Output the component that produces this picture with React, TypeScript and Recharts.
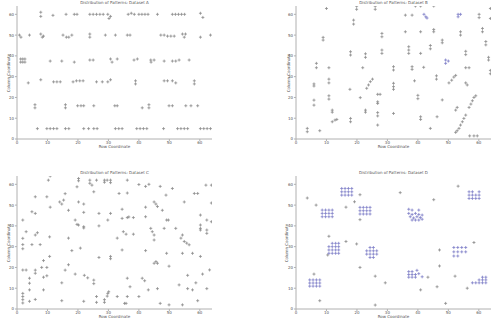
import React from "react";
import { ScatterChart, Scatter, XAxis, YAxis } from "recharts";

type Pt = [number, number];

const TICKS = [0, 10, 20, 30, 40, 50, 60];
const TITLES = [
  "Distribution of Patterns: Dataset A",
  "Distribution of Patterns: Dataset B",
  "Distribution of Patterns: Dataset C",
  "Distribution of Patterns: Dataset D",
];
const X_LABEL = "Row Coordinate";
const Y_LABEL = "Column Coordinate";

const panelA: Pt[] = [
  [7.8, 61], [7.8, 59], [11.8, 59.5], [16.1, 60], [18.8, 60], [19.7, 60], [23.9, 60], [25, 60], [26.1, 60], [27.2, 60], [28.3, 60],
  [29.8, 60], [30.7, 59], [30.2, 58], [36.5, 60], [37.5, 60.5], [38.5, 60], [40, 60], [41, 60], [42, 60], [43, 60], [46.1, 60],
  [51, 60], [52, 60], [53, 60], [54, 60], [55, 60], [60.2, 60.5], [61, 58.5],
  [0.8, 50], [1.3, 49], [4.1, 50], [7.8, 50.5], [8.7, 49.5], [8.3, 49], [15.1, 50], [16.2, 49], [17, 49], [18, 50], [23.9, 50.5],
  [23.9, 49], [29, 50], [32.3, 50], [36.2, 50], [37.1, 50], [47.2, 50], [48.3, 50], [49.4, 49.5], [50.5, 49.5], [51.6, 49.5],
  [54.3, 50.5], [54.9, 49], [55.3, 50.5], [60.2, 49], [63.5, 50],
  [1.2, 38.5], [1.9, 38.5], [2.6, 38.5], [1.2, 37], [1.9, 37], [2.6, 37], [10.9, 37.5], [14.7, 37.5], [18.8, 37], [23.9, 38],
  [25, 38], [30.7, 38.5], [31.2, 37], [32.9, 38.5], [38.4, 38], [39.5, 38.5], [43.9, 38], [45, 38], [44, 37], [48.3, 37.5],
  [51, 37.5], [52.1, 37.5], [53.2, 38], [56.5, 38],
  [3.7, 27], [7.8, 28.5], [12, 27.5], [13.1, 27.5], [14.2, 27.5], [18.4, 27.5], [19.5, 28], [20.6, 28], [21.7, 28], [26.1, 27.5],
  [28, 27.5], [29.8, 27.5], [30.7, 28.5], [38.9, 28], [38.9, 26.5], [48.3, 28], [49.4, 28], [51, 28], [52.1, 27], [58.2, 28], [58.2, 26.5],
  [5.9, 16.5], [5.9, 15], [15.9, 16.5], [15.9, 15], [19.9, 16], [21, 16], [21.9, 16], [25.2, 16], [32.1, 16], [32.9, 16],
  [41.1, 15], [43.3, 16.5], [43.3, 15], [49.9, 16], [51, 16], [55.4, 16], [57.1, 16], [59.3, 16],
  [6.7, 5], [9.8, 5], [10.9, 5], [12, 5], [13.1, 5], [15.9, 5], [17, 5], [21.9, 5], [23.5, 5], [25.2, 5], [26.3, 5],
  [32.3, 5], [33.4, 5], [34.5, 5], [39.3, 5], [40.4, 5], [41.5, 5], [42.6, 5], [48.1, 5], [52.7, 5], [53.8, 5], [54.9, 5],
  [56, 5], [60.2, 5], [61.3, 5], [62.4, 5], [63.5, 5],
];

const panelB: Pt[] = [
  [3.7, 5.1], [3.7, 3.5], [7.8, 4], [5.9, 26.5], [5.9, 25.5], [5.9, 18.7], [5.9, 16.3], [6.7, 36.4], [6.7, 34.3], [8.9, 48.9],
  [8.9, 47.6], [10, 62.8], [10.8, 34.3], [10.8, 28.8], [10.8, 27], [10.8, 20.8], [10.8, 19.2], [11.9, 13.9], [11.9, 12.9],
  [11.9, 8.3], [12.8, 9.1], [13.4, 9.4], [17.7, 23.9], [17.9, 9.9], [17.9, 8.3], [17.9, 42], [17.9, 40.4], [18.9, 57.2],
  [18.9, 55.3], [19.9, 63.9], [19.9, 62.4], [21.1, 19.9], [21.9, 34.3], [22.8, 41], [22.8, 39.3], [23.2, 24.4], [23.8, 26],
  [24.4, 27.6], [25.1, 28.8], [22.8, 13.9], [22.8, 12.9], [26, 63.9], [26, 62.4], [26.8, 21.5], [27.6, 21.5], [26.8, 17.9],
  [26.8, 17.1], [26.8, 12.7], [26.8, 11.1], [26.8, 6.7], [28.2, 50.8], [28.2, 49.2], [28.2, 42.8], [28.2, 41.2], [32, 34.8],
  [32, 33.2], [32, 26.8], [32, 25.2], [32, 23.9], [32, 12.3], [35.9, 59.6], [35.9, 51.6], [37, 44.4], [37, 42.8], [37, 41.2],
  [38.1, 59.6], [38.1, 34.8], [38.1, 33.5], [38.9, 28], [39.2, 64], [40.9, 64], [40, 21], [40, 19.4], [40.9, 51.6], [40.9, 41.2],
  [40.9, 10.7], [40.9, 9.4], [41.9, 34.5], [44.1, 45], [44.1, 43.4], [44.1, 5.1], [45.2, 64], [45.2, 52.7], [45.2, 51.6],
  [46.1, 30.4], [46.1, 28.8], [46.3, 10.7], [48, 47.6], [48, 46.3], [48, 18.8], [50.2, 27], [51.1, 28.3], [51.8, 29.8],
  [52.4, 30.6], [52.4, 13.9], [52.9, 15.2], [52.4, 3.2], [52.9, 4], [53.5, 5.1], [54, 6.7], [54.6, 8.3], [55.1, 9.9], [55.7, 11.5],
  [54, 51.6], [54, 50], [55.7, 42.2], [55.7, 40.6], [55.7, 34.3], [56.8, 34.3], [55.7, 27], [56.2, 26], [56.8, 15.2], [57.4, 16.8],
  [57.9, 18.4], [58.4, 20], [59, 20.8], [57, 1.5], [58.4, 1.5], [59.5, 1.5], [60.1, 60], [60.1, 58.4], [61.2, 53.2], [61.2, 51.6],
  [62.3, 46.9], [62.3, 45.3], [63.2, 39.3], [63.2, 38], [63.8, 33], [63.8, 31.4], [63.8, 62.8], [63.8, 58],
];

const panelBBlue: Pt[] = [
  [42, 60], [42.6, 58.8], [43, 58.2], [49.1, 38], [49.1, 36.4], [50, 37.5], [53.2, 60], [53.2, 58.8], [54, 60],
];

const panelC: Pt[] = [
  [1.9, 42.8], [1.9, 34], [1.9, 31], [1.9, 29], [1.9, 18.75], [1.9, 7.5], [1.9, 6], [1.9, 4.5], [1.9, 2.9], [3, 18.75], [3, 37.2],
  [4.1, 14.8], [4.1, 12.4], [4.1, 9.2], [4.1, 3.7], [4.9, 31], [4.9, 46.8], [6, 54], [6, 46], [6, 35.6], [6.7, 36.7], [6, 18.7],
  [6, 17.2], [6, 4.6], [7.6, 31], [8.1, 20], [8.7, 23.3], [8.7, 15.3], [9.8, 16], [9.8, 20], [8.7, 9.2], [9.8, 54], [10.3, 62],
  [10.9, 64], [10.7, 34.7], [10.7, 25.3], [10.9, 49], [14, 51.5], [14.7, 50.5], [15.3, 52.4], [15.8, 55.5], [16.9, 47.5],
  [16.9, 34.1], [16.9, 21.3], [15.8, 18.7], [14.7, 12.6], [14.7, 4], [18, 28.1], [19.1, 16.8], [19.1, 42.8], [19.7, 40.7],
  [19.7, 58.8], [20.2, 62.8], [20.2, 61.7], [20.2, 51.5], [20.2, 40.4], [20.8, 29.3], [21.9, 39.6], [21.9, 39], [21.9, 50.5],
  [21.9, 46.5], [22.1, 16.2], [21.9, 3.7], [23.2, 15], [23.9, 62], [23.9, 60.5], [24.6, 59.6], [25.2, 56.4], [25.2, 13.9],
  [25.2, 12.2], [26.1, 62], [26.1, 6], [26.1, 3.2], [26.9, 46], [26.9, 40], [26.9, 24.8], [28.7, 62], [28.7, 61], [29.6, 62],
  [29.6, 6.2], [29.8, 7.5], [30.1, 8.3], [29.8, 42.8], [30.7, 46], [30.7, 62], [30.7, 60.8], [30.7, 25.3], [30.7, 24.2],
  [28.7, 4.5], [28.7, 3.2], [32.9, 34.1], [32.9, 6], [33.5, 55.6], [34.5, 48], [34.5, 43.6], [34.5, 28.4], [34.9, 37.2],
  [35.8, 36], [35.3, 2.7], [35.8, 2.7], [36.2, 62], [36.2, 55.8], [36.2, 44], [36.7, 44.3], [36.2, 14.8], [36.2, 6], [37.1, 10.7],
  [38.2, 36], [38.2, 44], [40, 59.9], [40, 6], [41.1, 14.8], [41.9, 13.6], [42.2, 44.4], [42.2, 59], [43.3, 60], [42.2, 49],
  [42.2, 28.1], [43.1, 9.2], [43.9, 38.8], [44.4, 37.2], [45, 35.6], [45, 33.2], [45, 51.5], [45.6, 50.5], [46.1, 49.3], [45, 22],
  [45.6, 22.8], [46.1, 22], [46.1, 9.8], [47, 59], [47, 2.7], [47.7, 47.5], [48.3, 38.8], [48.9, 54.8], [49.1, 42.8], [49.7, 42.8],
  [49.1, 26.8], [49.9, 20.6], [49.9, 2], [51, 58], [52.1, 38.8], [53.2, 11.6], [53.8, 34.1], [54.3, 35.6], [54.3, 26.8], [54.3, 2],
  [54.9, 51.5], [54.9, 32.5], [55.7, 31.7], [56.5, 30.9], [56, 16.2], [56, 9.8], [57.6, 26.8], [57.6, 9.2], [58.2, 55.6],
  [59.3, 55.6], [58.7, 12.6], [59.3, 4], [60.2, 25.3], [60.2, 45.2], [60.2, 40.4], [60.2, 38.8], [60.2, 38], [60.9, 16.8], [62, 59.6],
  [62.3, 42.8], [62.3, 38], [62.3, 36.4], [62.3, 9.8], [63.2, 18.8], [63.8, 59.6], [63.8, 51], [63.8, 42],
];

const panelDSingles: Pt[] = [
  [5.9, 16.8], [7.8, 4], [3.7, 53.4], [6.6, 50], [10.8, 35], [10.4, 26], [16.4, 49], [16.4, 32.5], [19.2, 51.6], [19.9, 31.3],
  [21, 55], [21, 43], [21, 20], [26, 15.8], [26, 1.9], [29.3, 12.6], [34.2, 56], [40.9, 9.2], [43.3, 15.3], [45.2, 52.6],
  [46.3, 10.7], [47.1, 28.4], [47.1, 20.7], [49.1, 2.7], [52.2, 15.8], [53.2, 59.1], [56.2, 10], [58.4, 32],
];

const panelDClusters: Pt[] = [
  [4.5, 11], [5.6, 11], [6.7, 11], [7.8, 11], [4.5, 12.5], [5.6, 12.5], [6.7, 12.5], [7.8, 12.5], [4.5, 14], [5.6, 14], [6.7, 14], [7.8, 14],
  [8.6, 44.4], [9.7, 44.4], [10.8, 44.4], [11.9, 44.4], [8.6, 46], [9.7, 46], [10.8, 46], [11.9, 46], [8.6, 47.6], [9.7, 47.6], [10.8, 47.6], [11.9, 47.6],
  [10.8, 26.8], [11.9, 26.8], [13, 26.8], [14, 26.8], [10.8, 28.4], [11.9, 28.4], [13, 28.4], [14, 28.4], [10.8, 30], [11.9, 30],
  [13, 30], [14, 30], [11.9, 31.6], [13, 31.6], [14, 31.6],
  [15, 54.8], [16.1, 54.8], [17.2, 54.8], [18.3, 54.8], [15, 56.4], [16.1, 56.4], [17.2, 56.4], [18.3, 56.4], [15, 58], [16.1, 58], [17.2, 58], [18.3, 58],
  [21, 45.7], [22.1, 45.7], [23.2, 45.7], [24.3, 45.7], [21, 47.3], [22.1, 47.3], [23.2, 47.3], [24.3, 47.3], [21, 48.9], [22.1, 48.9], [23.2, 48.9], [24.3, 48.9],
  [24.3, 24.8], [25.4, 24.8], [23.2, 26.4], [24.3, 26.4], [25.4, 26.4], [26.5, 26.4], [23.2, 28], [24.3, 28], [25.4, 28], [26.5, 28], [24.3, 29.6], [25.4, 29.6],
  [37, 48], [38.1, 47.6], [40.3, 47.6], [37, 46], [38.1, 45.5], [39.2, 46], [40.3, 45.5], [41.4, 45.2], [37.5, 44.4], [38.6, 43.8],
  [39.7, 44.4], [40.8, 44], [38.1, 42.8], [39.2, 42.8], [40.3, 42.8], [41.4, 43.2],
  [37, 18], [38.1, 18], [39.7, 18.6], [37, 16.6], [38.1, 16.6], [39.2, 16.6], [40.3, 17], [37, 15.3], [38.1, 15.3], [39.2, 15.3], [41.4, 15.5],
  [51.8, 25.5], [53.1, 25.5], [51.8, 27.5], [53.1, 27.5], [54.4, 27.5], [55.7, 27.5], [51.8, 29.6], [53.1, 29.6], [54.4, 29.6], [55.7, 29.6],
  [56.8, 53.2], [57.9, 53.2], [59, 53.2], [60.1, 53.2], [56.8, 54.8], [57.9, 54.8], [59, 54.8], [60.1, 54.8], [56.8, 56.4], [57.9, 56.4], [60.1, 56.4],
  [57.9, 12.6], [59, 12.6], [60.1, 12.6], [61.2, 12.6], [62.3, 12.6], [60.1, 14], [61.2, 14], [62.3, 14], [61.2, 15.3], [62.3, 15.3],
];

const toObj = (pts: Pt[]) => pts.map(([x, y]) => ({ x, y }));

const GRAY = "#8c8c8c";
const BLUE = "#7f7fc8";

const plus = (color: string) => (props: any) => {
  const { cx, cy } = props;
  if (cx == null || cy == null) return <g />;
  return (
    <path
      d={`M${cx - 1.5},${cy}h3M${cx},${cy - 1.5}v3`}
      stroke={color}
      strokeWidth={0.8}
      fill="none"
    />
  );
};

const tickStyle = { fontSize: 4, fill: "#555", fontFamily: "DejaVu Sans, sans-serif" };
const axisLine = { stroke: "#b0b0b0", strokeWidth: 1 };

interface PanelProps {
  left: number;
  top: number;
  width: number;
  height: number;
  yAxisWidth: number;
  marginTop: number;
  marginRight: number;
  xAxisHeight: number;
  series: { data: Pt[]; color: string }[];
  title: string;
  titleTop: number;
  xLabelTop: number;
  yLabelLeft: number;
}

function Panel(p: PanelProps) {
  const plotLeft = p.yAxisWidth;
  const plotRight = p.width - p.marginRight;
  const plotTop = p.marginTop;
  const plotBottom = p.height - p.xAxisHeight;
  const cx = (plotLeft + plotRight) / 2;
  const cy = (plotTop + plotBottom) / 2;
  const textStyle: React.CSSProperties = {
    position: "absolute",
    fontSize: 4,
    lineHeight: "5px",
    color: "#555",
    fontFamily: "DejaVu Sans, sans-serif",
    whiteSpace: "nowrap",
  };
  return (
    <div style={{ position: "absolute", left: p.left, top: p.top, width: p.width, height: p.height }}>
      <ScatterChart
        width={p.width}
        height={p.height}
        margin={{ top: p.marginTop, right: p.marginRight, bottom: 0, left: 0 }}
      >
        <XAxis
          type="number"
          dataKey="x"
          domain={[0, 64]}
          ticks={TICKS}
          allowDataOverflow
          height={p.xAxisHeight}
          tick={tickStyle}
          tickSize={2}
          tickMargin={0}
          axisLine={axisLine}
          tickLine={{ stroke: "#b0b0b0" }}
        />
        <YAxis
          type="number"
          dataKey="y"
          domain={[0, 64]}
          ticks={TICKS}
          allowDataOverflow
          width={p.yAxisWidth}
          tick={tickStyle}
          tickSize={2}
          tickMargin={1}
          axisLine={axisLine}
          tickLine={{ stroke: "#b0b0b0" }}
        />
        {p.series.map((s, i) => (
          <Scatter
            key={i}
            data={toObj(s.data)}
            isAnimationActive={false}
            shape={plus(s.color)}
          />
        ))}
      </ScatterChart>
      <div style={{ ...textStyle, left: cx, top: p.titleTop, transform: "translateX(-50%)" }}>{p.title}</div>
      <div style={{ ...textStyle, left: cx, top: p.xLabelTop, transform: "translateX(-50%)" }}>{X_LABEL}</div>
      <div
        style={{
          ...textStyle,
          left: p.yLabelLeft,
          top: cy,
          transform: "translate(-50%, -50%) rotate(-90deg)",
        }}
      >
        {Y_LABEL}
      </div>
    </div>
  );
}

export default function App() {
  return (
    <div style={{ position: "fixed", left: 0, top: 0, width: 495, height: 321, background: "#fff", overflow: "hidden" }}>
      <Panel
        left={0} top={0} width={248} height={160}
        yAxisWidth={17} marginTop={6} marginRight={36} xAxisHeight={21}
        series={[{ data: panelA, color: GRAY }]}
        title={TITLES[0]} titleTop={0} xLabelTop={144} yLabelLeft={8}
      />
      <Panel
        left={248} top={0} width={247} height={160}
        yAxisWidth={48} marginTop={6} marginRight={4} xAxisHeight={21}
        series={[{ data: panelB, color: GRAY }, { data: panelBBlue, color: BLUE }]}
        title={TITLES[1]} titleTop={0} xLabelTop={144} yLabelLeft={40}
      />
      <Panel
        left={0} top={160} width={248} height={161}
        yAxisWidth={17} marginTop={16} marginRight={36} xAxisHeight={12}
        series={[{ data: panelC, color: GRAY }]}
        title={TITLES[2]} titleTop={10} xLabelTop={154} yLabelLeft={8}
      />
      <Panel
        left={248} top={160} width={247} height={161}
        yAxisWidth={48} marginTop={16} marginRight={4} xAxisHeight={12}
        series={[{ data: panelDSingles, color: GRAY }, { data: panelDClusters, color: BLUE }]}
        title={TITLES[3]} titleTop={10} xLabelTop={154} yLabelLeft={38}
      />
    </div>
  );
}
